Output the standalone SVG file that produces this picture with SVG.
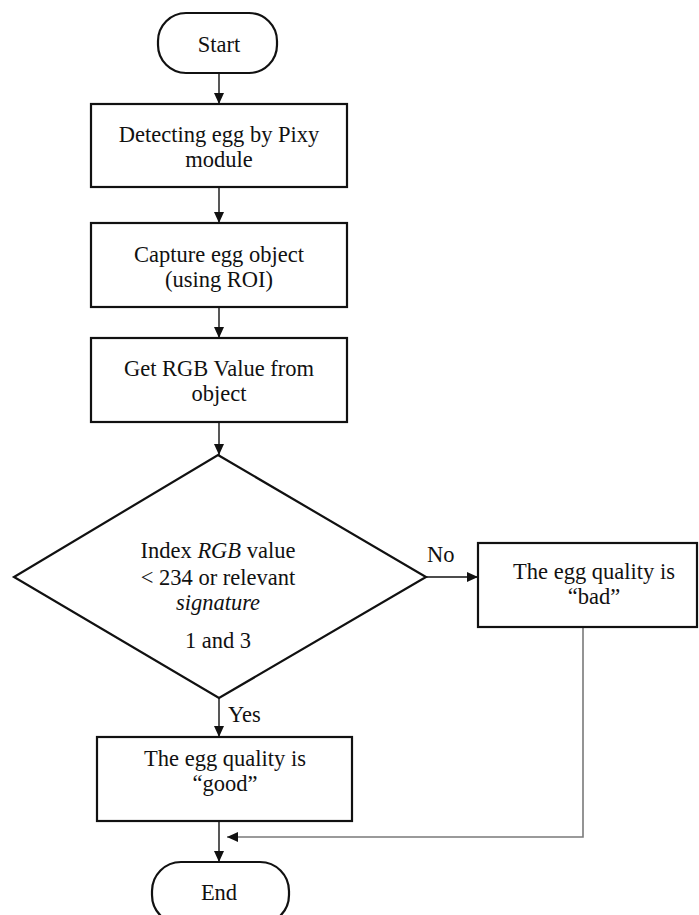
<svg xmlns="http://www.w3.org/2000/svg" width="699" height="915" viewBox="0 0 699 915">
<defs>
<style>
.box{fill:#fff;stroke:#111;stroke-width:2.2}
.c{fill:none;stroke:#111;stroke-width:1.4}
.g{fill:none;stroke:#7a7a7a;stroke-width:1.6}
</style>
<marker id="ah" markerUnits="userSpaceOnUse" markerWidth="11" markerHeight="10" refX="11" refY="5" orient="auto">
<path d="M0,0 L11,5 L0,10 z" fill="#111"/>
</marker>
</defs>
<rect width="699" height="915" fill="#fff"/>
<g font-family="Liberation Serif" font-size="22.5" fill="#111">
<g id="connectors">
<line class="c" x1="219" y1="73" x2="219" y2="104" marker-end="url(#ah)"/>
<line class="c" x1="219" y1="187" x2="219" y2="223" marker-end="url(#ah)"/>
<line class="c" x1="219" y1="307" x2="219" y2="338" marker-end="url(#ah)"/>
<line class="c" x1="219" y1="422" x2="219" y2="455" marker-end="url(#ah)"/>
<line class="c" x1="219" y1="698" x2="219" y2="737" marker-end="url(#ah)"/>
<line class="c" x1="426" y1="577" x2="478" y2="577" marker-end="url(#ah)"/>
<line class="c" x1="219" y1="821" x2="219" y2="862" marker-end="url(#ah)"/>
<polyline class="g" points="583,627 583,837 227,837" marker-end="url(#ah)"/>
<text font-family="Liberation Serif" x="427" y="562">No</text>
<text font-family="Liberation Serif" x="228" y="722">Yes</text>
</g>
<g id="start" text-anchor="middle">
<rect class="box" x="158" y="13" width="119" height="60" rx="28" ry="28"/>
<text font-family="Liberation Serif" x="219" y="52">Start</text>
</g>
<g id="detect" text-anchor="middle">
<rect class="box" x="91" y="104" width="256" height="83"/>
<text font-family="Liberation Serif" x="219" y="142">Detecting egg by Pixy</text>
<text font-family="Liberation Serif" x="219" y="167">module</text>
</g>
<g id="capture" text-anchor="middle">
<rect class="box" x="91" y="223" width="256" height="84"/>
<text font-family="Liberation Serif" x="219" y="262">Capture egg object</text>
<text font-family="Liberation Serif" x="219" y="287">(using ROI)</text>
</g>
<g id="getrgb" text-anchor="middle">
<rect class="box" x="91" y="338" width="256" height="84"/>
<text font-family="Liberation Serif" x="219" y="376">Get RGB Value from</text>
<text font-family="Liberation Serif" x="219" y="401">object</text>
</g>
<g id="decision" text-anchor="middle">
<polygon class="box" points="218,455 426,577 219,698 14,577"/>
<text font-family="Liberation Serif" x="218" y="558">Index <tspan font-style="italic">RGB</tspan> value</text>
<text font-family="Liberation Serif" x="218" y="585">&lt; 234 or relevant</text>
<text font-family="Liberation Serif" x="218" y="610" font-style="italic">signature</text>
<text font-family="Liberation Serif" x="218" y="648">1 and 3</text>
</g>
<g id="bad" text-anchor="middle">
<rect class="box" x="478" y="543" width="219" height="84"/>
<text font-family="Liberation Serif" x="594" y="579">The egg quality is</text>
<text font-family="Liberation Serif" x="594" y="604">“bad”</text>
</g>
<g id="good" text-anchor="middle">
<rect class="box" x="97" y="737" width="255" height="84"/>
<text font-family="Liberation Serif" x="225" y="766">The egg quality is</text>
<text font-family="Liberation Serif" x="225" y="791">“good”</text>
</g>
<g id="end" text-anchor="middle">
<rect class="box" x="152" y="862" width="137" height="62" rx="29" ry="29"/>
<text font-family="Liberation Serif" x="219" y="900">End</text>
</g>
</g>
</svg>
